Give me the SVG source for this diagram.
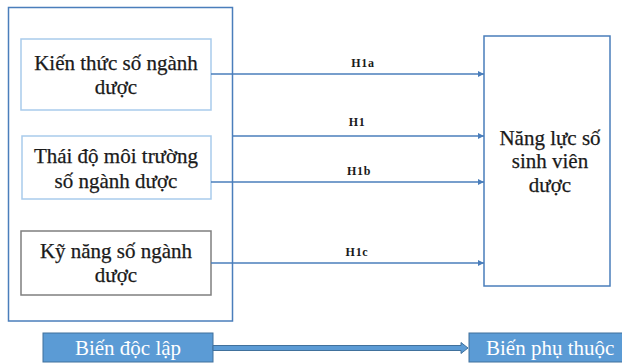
<svg xmlns="http://www.w3.org/2000/svg" width="622" height="363" viewBox="0 0 622 363">
<defs>
<style>
.t{font-family:'Liberation Serif','Times New Roman',serif;font-size:21px;fill:#1a1a1a;stroke:#1a1a1a;stroke-width:0.25;text-anchor:middle}
.h{font-family:'Liberation Serif','Times New Roman',serif;font-size:12px;font-weight:bold;fill:#1a1a1a;text-anchor:middle;letter-spacing:0.7px}
.w{font-family:'Liberation Serif','Times New Roman',serif;font-size:21px;fill:#ffffff}
.frame{fill:#ffffff;stroke:#4a7ebb;stroke-width:1.5}
.lb{fill:#ffffff;stroke:#a9cbec;stroke-width:1.5}
.gr{fill:#ffffff;stroke:#7f7f7f;stroke-width:1.5}
.blue{fill:#5b9bd5;stroke:#41719c;stroke-width:1}
.c{stroke:#4a7ebb;stroke-width:1.5;fill:none;marker-end:url(#ah)}
</style>
<marker id="ah" viewBox="0 0 10 10" refX="10" refY="5" markerWidth="6" markerHeight="6" markerUnits="userSpaceOnUse" orient="auto">
<path d="M0,0 L10,5 L0,10 Z" fill="#4a7ebb"/>
</marker>
</defs>
<rect width="622" height="363" fill="#ffffff"/>
<g id="independent-frame">
<rect class="frame" x="8.5" y="7.5" width="224" height="313.5"/>
</g>
<g id="node-kienthuc">
<rect class="lb" x="21" y="39" width="190" height="71"/>
<text class="t" x="116" y="70">Kiến thức số ngành</text>
<text class="t" x="116" y="94">dược</text>
</g>
<g id="node-thaido">
<rect class="lb" x="22" y="136" width="189" height="63"/>
<text class="t" x="116" y="163">Thái độ môi trường</text>
<text class="t" x="116" y="188">số ngành dược</text>
</g>
<g id="node-kynang">
<rect class="gr" x="21" y="231" width="190" height="64"/>
<text class="t" x="116" y="258">Kỹ năng số ngành</text>
<text class="t" x="116" y="282">dược</text>
</g>
<g id="node-nangluc">
<rect class="frame" x="484" y="36" width="126" height="250"/>
<text class="t" x="550" y="145">Năng lực số</text>
<text class="t" x="550" y="168">sinh viên</text>
<text class="t" x="550" y="192">dược</text>
</g>
<g id="node-biendoclap">
<rect class="blue" x="43" y="333" width="170" height="29"/>
<text class="w" x="128" y="355" text-anchor="middle">Biến độc lập</text>
</g>
<g id="node-bienphuthuoc">
<rect class="blue" x="469" y="333" width="160" height="29"/>
<text class="w" x="486" y="355">Biến phụ thuộc</text>
</g>
<g id="connectors">
<line class="c" x1="211" y1="74" x2="484" y2="74"/>
<line class="c" x1="233" y1="136" x2="484" y2="136"/>
<line class="c" x1="211" y1="182" x2="484" y2="182"/>
<line class="c" x1="211" y1="263" x2="484" y2="263"/>
<polygon class="blue" points="213,345.5 461,345.5 461,342.5 468,348 461,353.5 461,350.5 213,350.5"/>
<text class="h" x="363" y="67">H1a</text>
<text class="h" x="357" y="126">H1</text>
<text class="h" x="359" y="175">H1b</text>
<text class="h" x="357" y="256">H1c</text>
</g>
</svg>
